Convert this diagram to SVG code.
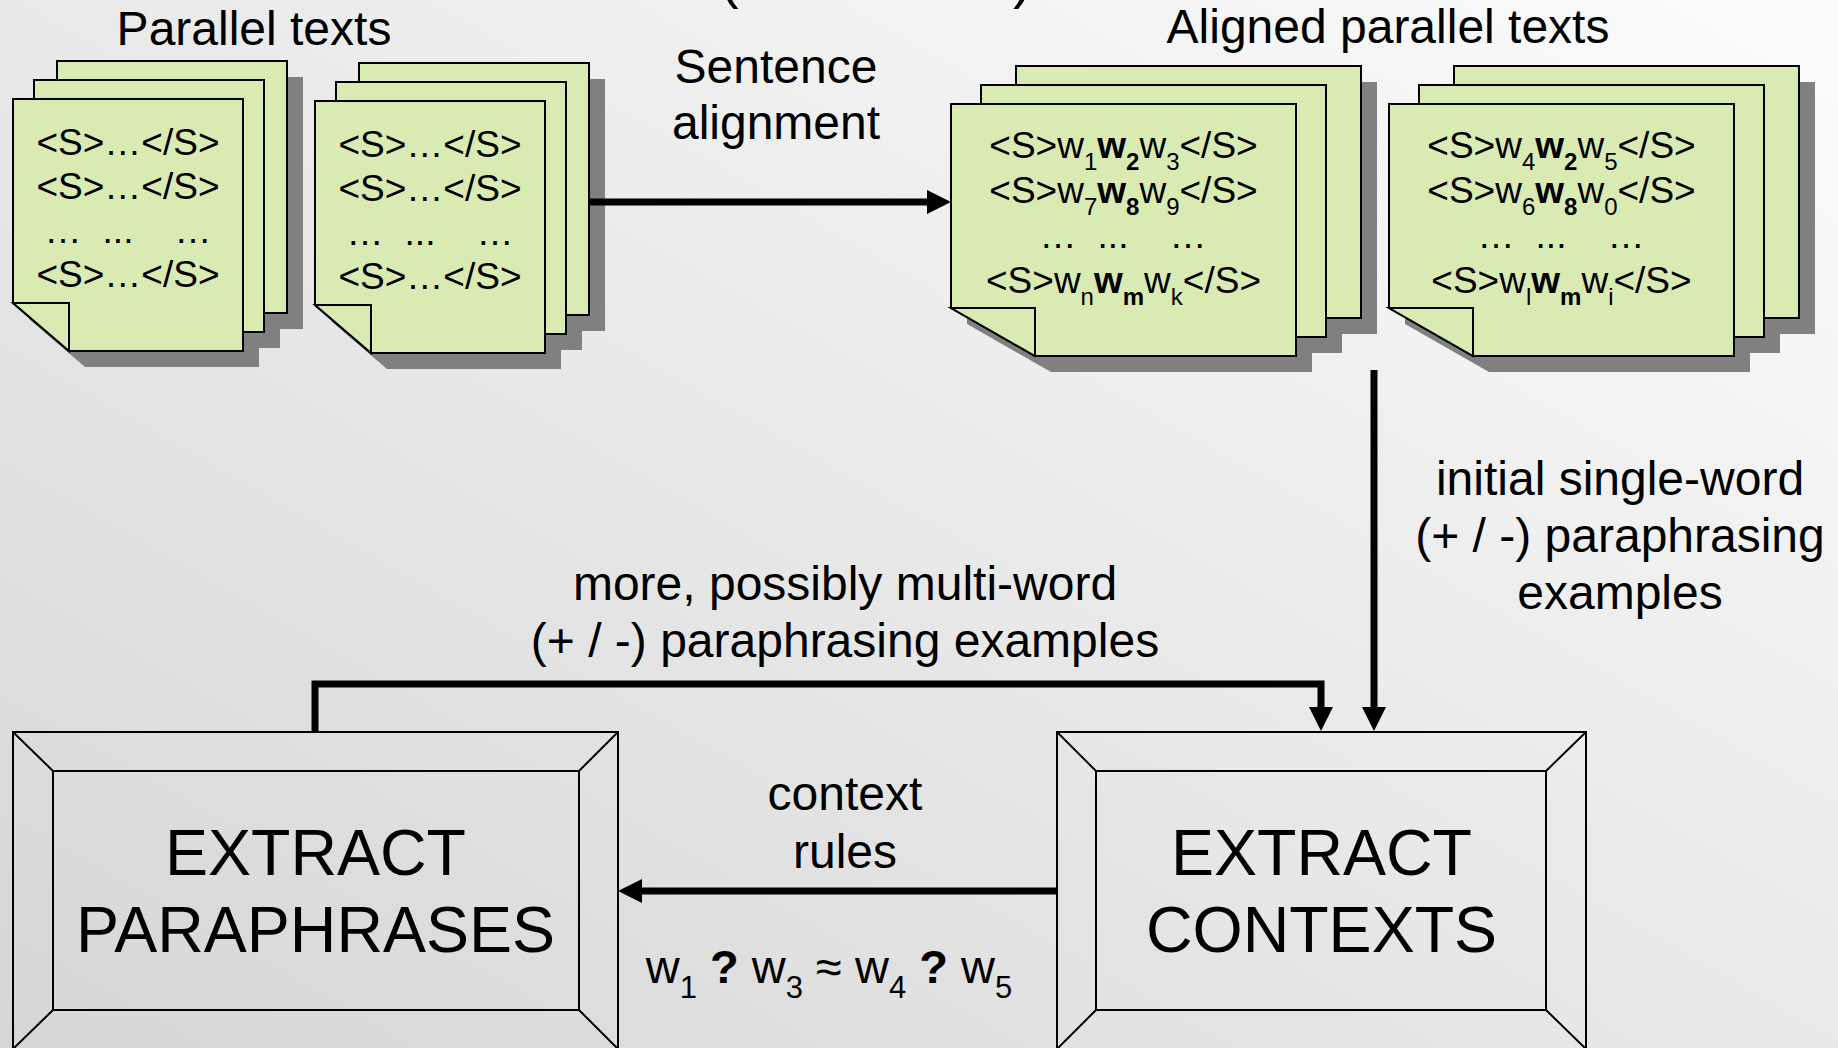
<svg xmlns="http://www.w3.org/2000/svg" width="1838" height="1048" viewBox="0 0 1838 1048">
  <defs>
    <linearGradient id="bg" x1="0" y1="1" x2="1" y2="0">
      <stop offset="0" stop-color="#d6d6d6"/>
      <stop offset="1" stop-color="#fcfcfc"/>
    </linearGradient>
    <marker id="arrow" viewBox="0 0 24 24" markerUnits="userSpaceOnUse" markerWidth="24" markerHeight="24" refX="3" refY="12" orient="auto">
      <path d="M0,0 L24,12 L0,24 Z" fill="#000"/>
    </marker>
    <style>
      text { font-family: "Liberation Sans", Arial, sans-serif; fill: #000; }
      .label { font-size: 48px; text-anchor: middle; }
      .big { font-size: 64.5px; text-anchor: middle; }
      .doc { font-size: 37px; text-anchor: middle; }
      .sb { font-size: 24px; }
      .fs { font-size: 31px; }
      .b { font-weight: bold; }
      .page { fill: #d9eab3; stroke: #000; stroke-width: 2; stroke-linejoin: miter; }
      .shadow { fill: #808080; stroke: none; }
      .frame { fill: none; stroke: #000; stroke-width: 2; }
      .conn { fill: none; stroke: #000; stroke-width: 7; stroke-linejoin: miter; stroke-linecap: butt; }
    </style>
  </defs>

  <!-- backdrop -->
  <rect x="0" y="0" width="1838" height="1048" fill="url(#bg)"/>

  <!-- tails of the heading's brackets at the top edge -->
  <text x="720" y="-3" font-size="56">(</text>
  <text x="1013" y="-3" font-size="56">)</text>

  <!-- headings and connector labels -->
  <g id="labels">
    <text class="label" x="254" y="45">Parallel texts</text>
    <text class="label" x="1388" y="43">Aligned parallel texts</text>
    <text class="label" x="776" y="83">Sentence</text>
    <text class="label" x="776" y="139">alignment</text>
    <text class="label" x="1620" y="495">initial single-word</text>
    <text class="label" x="1620" y="552">(+ / -) paraphrasing</text>
    <text class="label" x="1620" y="609">examples</text>
    <text class="label" x="845" y="600">more, possibly multi-word</text>
    <text class="label" x="845" y="657">(+ / -) paraphrasing examples</text>
    <text class="label" x="845" y="810">context</text>
    <text class="label" x="845" y="868">rules</text>
    <text x="829" y="983" font-size="47" text-anchor="middle">w<tspan class="fs" dy="15">1</tspan><tspan dy="-15"> </tspan><tspan class="b">?</tspan> w<tspan class="fs" dy="15">3</tspan><tspan dy="-15"> ≈ w</tspan><tspan class="fs" dy="15">4</tspan><tspan dy="-15"> </tspan><tspan class="b">?</tspan> w<tspan class="fs" dy="15">5</tspan></text>
  </g>

  <!-- parallel texts, first stack -->
  <g id="parallel-1">
    <polygon class="shadow" points="73,77 303,77 303,329 129,329 73,281"/>
    <polygon class="shadow" points="50,96 280,96 280,348 106,348 50,300"/>
    <polygon class="shadow" points="29,115 259,115 259,367 85,367 29,319"/>
    <polygon class="page" points="57,61 287,61 287,313 113,313 57,265"/>
    <polygon class="page" points="34,80 264,80 264,332 90,332 34,284"/>
    <polygon class="page" points="13,99 243,99 243,351 69,351 13,303"/>
    <polygon class="page" points="13,303 69,303 69,351"/>
    <text class="doc" x="128" y="155">&lt;S&gt;…&lt;/S&gt;</text>
    <text class="doc" x="128" y="199">&lt;S&gt;…&lt;/S&gt;</text>
    <text class="doc" x="63" y="243">…</text>
    <text class="doc" x="118" y="243">...</text>
    <text class="doc" x="193" y="243">…</text>
    <text class="doc" x="128" y="287">&lt;S&gt;…&lt;/S&gt;</text>
  </g>

  <!-- parallel texts, second stack -->
  <g id="parallel-2">
    <polygon class="shadow" points="375,79 605,79 605,331 431,331 375,283"/>
    <polygon class="shadow" points="352,98 582,98 582,350 408,350 352,302"/>
    <polygon class="shadow" points="331,117 561,117 561,369 387,369 331,321"/>
    <polygon class="page" points="359,63 589,63 589,315 415,315 359,267"/>
    <polygon class="page" points="336,82 566,82 566,334 392,334 336,286"/>
    <polygon class="page" points="315,101 545,101 545,353 371,353 315,305"/>
    <polygon class="page" points="315,305 371,305 371,353"/>
    <text class="doc" x="430" y="157">&lt;S&gt;…&lt;/S&gt;</text>
    <text class="doc" x="430" y="201">&lt;S&gt;…&lt;/S&gt;</text>
    <text class="doc" x="365" y="245">…</text>
    <text class="doc" x="420" y="245">...</text>
    <text class="doc" x="495" y="245">…</text>
    <text class="doc" x="430" y="289">&lt;S&gt;…&lt;/S&gt;</text>
  </g>

  <!-- aligned parallel texts, first stack -->
  <g id="aligned-1">
    <polygon class="shadow" points="1032,82 1377,82 1377,334 1116,334 1032,286"/>
    <polygon class="shadow" points="997,101 1342,101 1342,353 1081,353 997,305"/>
    <polygon class="shadow" points="967,120 1312,120 1312,372 1051,372 967,324"/>
    <polygon class="page" points="1016,66 1361,66 1361,318 1100,318 1016,270"/>
    <polygon class="page" points="981,85 1326,85 1326,337 1065,337 981,289"/>
    <polygon class="page" points="951,104 1296,104 1296,356 1035,356 951,308"/>
    <polygon class="page" points="951,308 1035,308 1035,356"/>
    <text class="doc" x="1123.5" y="158">&lt;S&gt;w<tspan class="sb" dy="12">1</tspan><tspan class="b" dy="-12">w</tspan><tspan class="sb b" dy="12">2</tspan><tspan dy="-12">w</tspan><tspan class="sb" dy="12">3</tspan><tspan dy="-12">&lt;/S&gt;</tspan></text>
    <text class="doc" x="1123.5" y="203">&lt;S&gt;w<tspan class="sb" dy="12">7</tspan><tspan class="b" dy="-12">w</tspan><tspan class="sb b" dy="12">8</tspan><tspan dy="-12">w</tspan><tspan class="sb" dy="12">9</tspan><tspan dy="-12">&lt;/S&gt;</tspan></text>
    <text class="doc" x="1058" y="248">…</text>
    <text class="doc" x="1113" y="248">...</text>
    <text class="doc" x="1188" y="248">…</text>
    <text class="doc" x="1123.5" y="293">&lt;S&gt;w<tspan class="sb" dy="12">n</tspan><tspan class="b" dy="-12">w</tspan><tspan class="sb b" dy="12">m</tspan><tspan dy="-12">w</tspan><tspan class="sb" dy="12">k</tspan><tspan dy="-12">&lt;/S&gt;</tspan></text>
  </g>

  <!-- aligned parallel texts, second stack -->
  <g id="aligned-2">
    <polygon class="shadow" points="1470,82 1815,82 1815,334 1554,334 1470,286"/>
    <polygon class="shadow" points="1435,101 1780,101 1780,353 1519,353 1435,305"/>
    <polygon class="shadow" points="1405,120 1750,120 1750,372 1489,372 1405,324"/>
    <polygon class="page" points="1454,66 1799,66 1799,318 1538,318 1454,270"/>
    <polygon class="page" points="1419,85 1764,85 1764,337 1503,337 1419,289"/>
    <polygon class="page" points="1389,104 1734,104 1734,356 1473,356 1389,308"/>
    <polygon class="page" points="1389,308 1473,308 1473,356"/>
    <text class="doc" x="1561.5" y="158">&lt;S&gt;w<tspan class="sb" dy="12">4</tspan><tspan class="b" dy="-12">w</tspan><tspan class="sb b" dy="12">2</tspan><tspan dy="-12">w</tspan><tspan class="sb" dy="12">5</tspan><tspan dy="-12">&lt;/S&gt;</tspan></text>
    <text class="doc" x="1561.5" y="203">&lt;S&gt;w<tspan class="sb" dy="12">6</tspan><tspan class="b" dy="-12">w</tspan><tspan class="sb b" dy="12">8</tspan><tspan dy="-12">w</tspan><tspan class="sb" dy="12">0</tspan><tspan dy="-12">&lt;/S&gt;</tspan></text>
    <text class="doc" x="1496" y="248">…</text>
    <text class="doc" x="1551" y="248">...</text>
    <text class="doc" x="1626" y="248">…</text>
    <text class="doc" x="1561.5" y="293">&lt;S&gt;w<tspan class="sb" dy="12">l</tspan><tspan class="b" dy="-12">w</tspan><tspan class="sb b" dy="12">m</tspan><tspan dy="-12">w</tspan><tspan class="sb" dy="12">i</tspan><tspan dy="-12">&lt;/S&gt;</tspan></text>
  </g>

  <!-- bevelled process boxes -->
  <g id="extract-paraphrases">
    <rect class="frame" x="13" y="732" width="605" height="317"/>
    <rect class="frame" x="53" y="771" width="526" height="239"/>
    <path class="frame" d="M13,732 L53,771 M618,732 L579,771 M13,1049 L53,1010 M618,1049 L579,1010"/>
    <text class="big" x="315.5" y="875">EXTRACT</text>
    <text class="big" x="315.5" y="952">PARAPHRASES</text>
  </g>

  <g id="extract-contexts">
    <rect class="frame" x="1057" y="732" width="529" height="317"/>
    <rect class="frame" x="1096" y="771" width="450" height="239"/>
    <path class="frame" d="M1057,732 L1096,771 M1586,732 L1546,771 M1057,1049 L1096,1010 M1586,1049 L1546,1010"/>
    <text class="big" x="1321.5" y="875">EXTRACT</text>
    <text class="big" x="1321.5" y="952">CONTEXTS</text>
  </g>

  <!-- connectors -->
  <g id="connectors">
    <path class="conn" d="M589,202 H930" marker-end="url(#arrow)"/>
    <path class="conn" d="M1374,370 V710" marker-end="url(#arrow)"/>
    <path class="conn" d="M315,731 V684 H1321 V710" marker-end="url(#arrow)"/>
    <path class="conn" d="M1056,891 H639" marker-end="url(#arrow)"/>
  </g>
</svg>
